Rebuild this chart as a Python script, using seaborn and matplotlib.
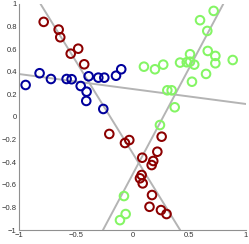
import numpy as np
import pandas as pd
import matplotlib
matplotlib.use("Agg")
import matplotlib.pyplot as plt
import seaborn as sns

# point data (three clusters)
blue_x = [-0.941, -0.818, -0.718, -0.580, -0.536, -0.456, -0.386, -0.301, -0.248,
          -0.404, -0.407, -0.257, -0.145, -0.099]
blue_y = [0.283, 0.387, 0.336, 0.336, 0.334, 0.274, 0.360, 0.348, 0.348,
          0.224, 0.142, 0.071, 0.365, 0.422]

red_x = [-0.782, -0.650, -0.636, -0.544, -0.478, -0.425, -0.204, -0.066, -0.028,
         0.086, 0.219, 0.183, 0.169, 0.257, 0.081, 0.066, 0.090, 0.172, 0.150,
         0.251, 0.300]
red_y = [0.841, 0.773, 0.705, 0.560, 0.604, 0.466, -0.150, -0.230, -0.204,
         -0.360, -0.307, -0.389, -0.425, -0.174, -0.513, -0.542, -0.587, -0.690,
         -0.794, -0.823, -0.858]

green_x = [0.715, 0.595, 0.659, 0.663, 0.730, 0.730, 0.883, 0.507, 0.507, 0.478,
           0.544, 0.419, 0.648, 0.524, 0.271, 0.198, 0.101, 0.307, 0.345, 0.372,
           0.242, -0.075, -0.060, -0.110]
green_y = [0.938, 0.856, 0.761, 0.584, 0.540, 0.475, 0.504, 0.555, 0.489, 0.484,
           0.463, 0.481, 0.381, 0.312, 0.463, 0.422, 0.445, 0.236, 0.236, 0.086,
           -0.071, -0.699, -0.858, -0.912]

# fitted lines, given by their end points
line_x = [[-1.0, 1.0], [-0.81, 0.42], [-0.26, 0.80]]
line_y = [[0.38, 0.115], [1.0, -1.0], [-1.0, 1.0]]

pts = pd.DataFrame({
    "x": blue_x + red_x + green_x,
    "y": blue_y + red_y + green_y,
    "cluster": ["a"] * len(blue_x) + ["b"] * len(red_x) + ["c"] * len(green_x),
})
lines = pd.DataFrame({
    "x": sum(line_x, []),
    "y": sum(line_y, []),
    "line": [i for i in range(len(line_x)) for _ in range(2)],
})

sns.set_style("white")
plt.rcParams["font.family"] = ["Liberation Sans", "DejaVu Sans"]

fig = plt.figure(figsize=(2.49, 2.44), dpi=100)
ax = fig.add_axes([0.076, 0.057, 0.912, 0.927])

sns.lineplot(data=lines, x="x", y="y", units="line", estimator=None,
             color="#b4b4b4", lw=1.4, sort=False, ax=ax, zorder=1)

sns.scatterplot(data=pts, x="x", y="y", hue="cluster",
                palette={"a": "#00009c", "b": "#8c0000", "c": "#84f564"},
                s=38, linewidth=1.45, legend=False, ax=ax, zorder=2)
coll = ax.collections[-1]
coll.set_edgecolors(coll.get_facecolors())
coll.set_facecolors("none")

ax.set_xlim(-1, 1)
ax.set_ylim(-1, 1)
ax.set_xticks([-1, -0.5, 0, 0.5, 1])
ax.set_xticklabels(["\u22121", "\u22120.5", "0", "0.5", "1"])
yt = [-1, -0.8, -0.6, -0.4, -0.2, 0, 0.2, 0.4, 0.6, 0.8, 1]
ax.set_yticks(yt)
ax.set_yticklabels(["\u22121", "\u22120.8", "\u22120.6", "\u22120.4", "\u22120.2",
                    "0", "0.2", "0.4", "0.6", "0.8", "1"])
ax.set_xlabel("")
ax.set_ylabel("")
ax.tick_params(direction="in", length=2, width=0.6, labelsize=5.5, pad=1.5,
               colors="#333333")
ax.tick_params(axis="both", color="#909090")
sns.despine(ax=ax)
for s in ["left", "bottom"]:
    ax.spines[s].set_color("#909090")
    ax.spines[s].set_linewidth(0.8)

fig.savefig("out.png", dpi=100)
